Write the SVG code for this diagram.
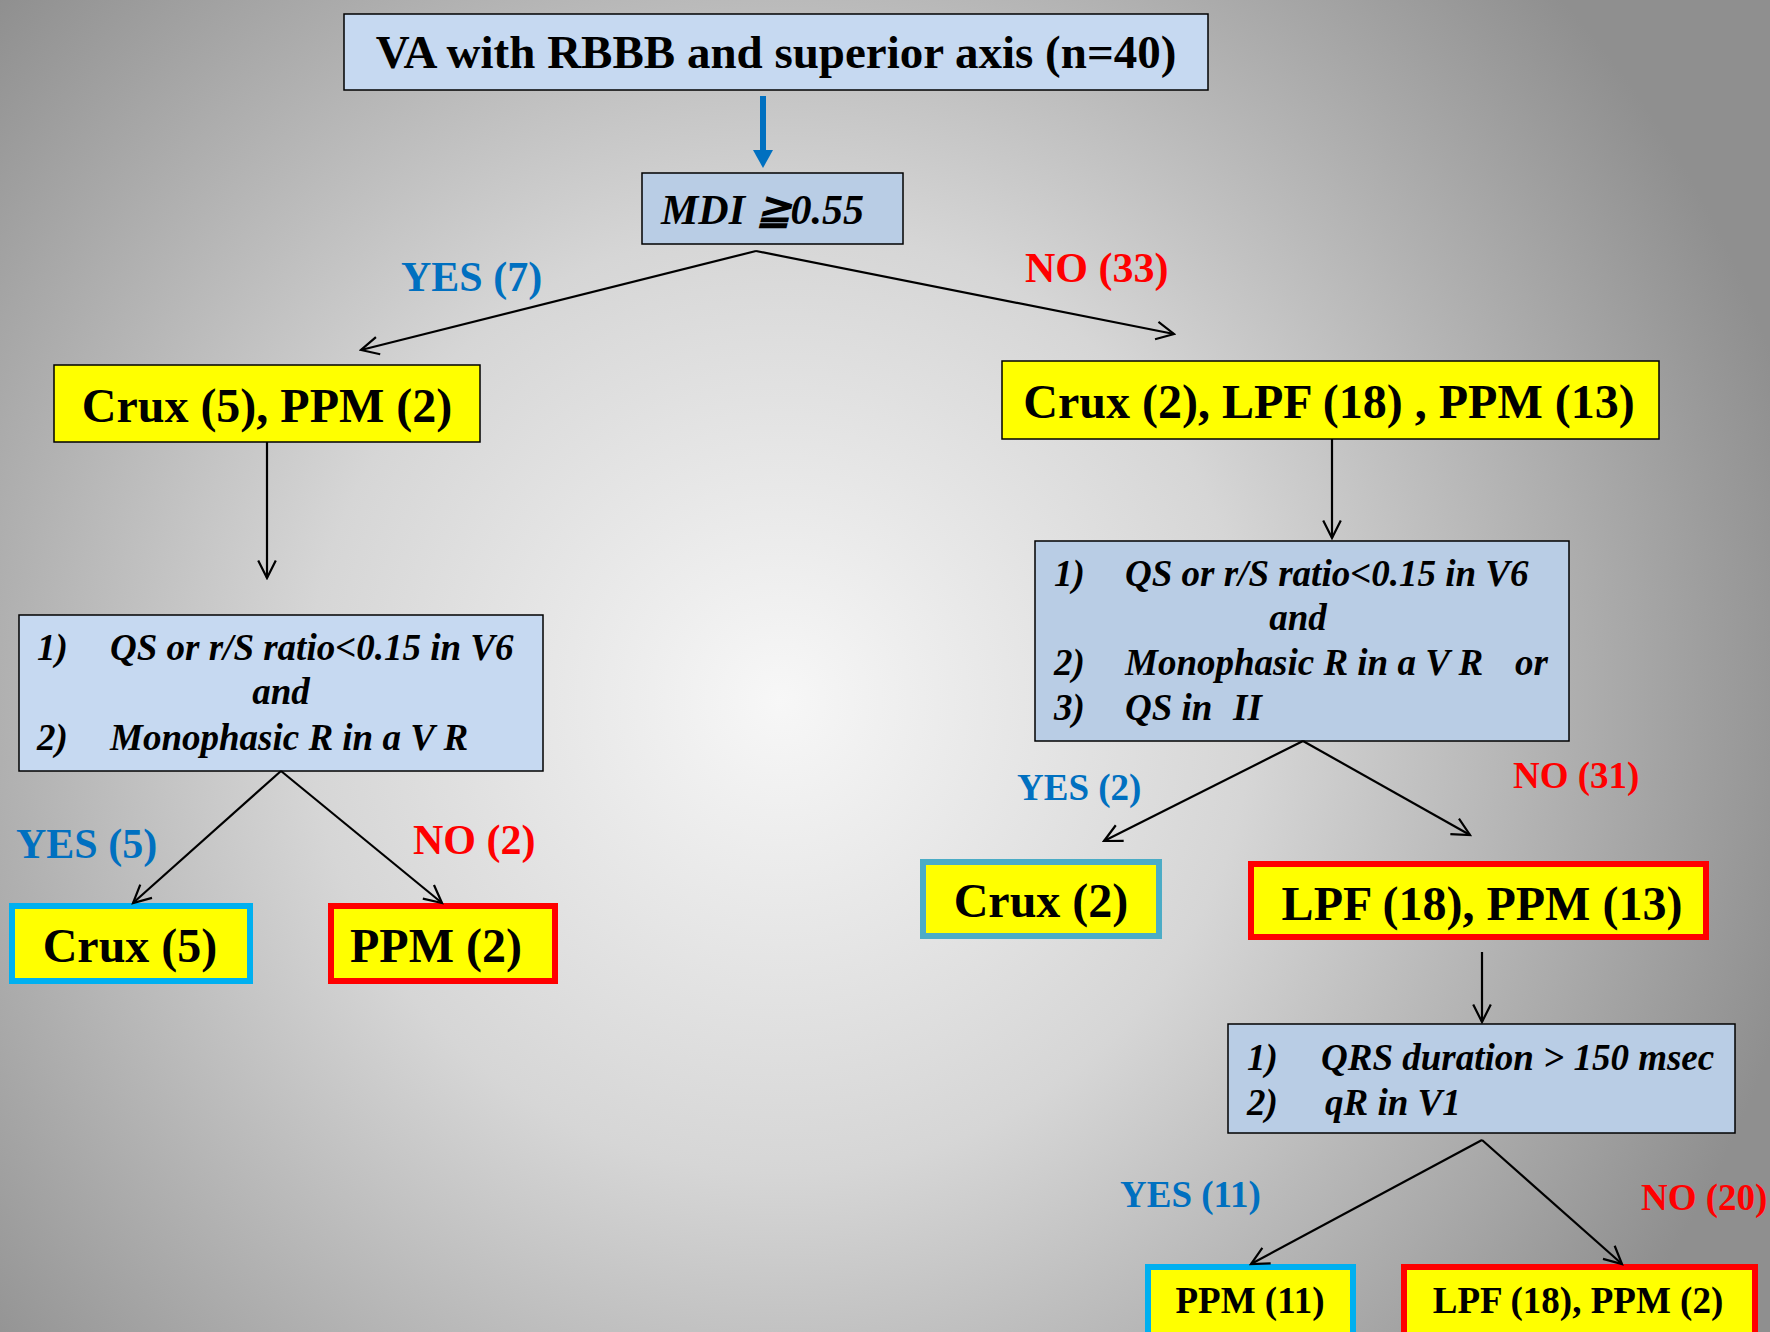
<svg xmlns="http://www.w3.org/2000/svg" width="1770" height="1332" viewBox="0 0 1770 1332">
<defs>
<radialGradient id="bg" gradientUnits="userSpaceOnUse" cx="780" cy="700" r="1050">
<stop offset="0" stop-color="#f7f7f7"/>
<stop offset="0.45" stop-color="#d6d6d6"/>
<stop offset="1" stop-color="#8f8f8f"/>
</radialGradient>
<marker id="ah" viewBox="0 0 20 20" refX="18" refY="10" markerWidth="22" markerHeight="22" markerUnits="userSpaceOnUse" orient="auto">
<path d="M2,2 L18,10 L2,18" fill="none" stroke="#000" stroke-width="2"/>
</marker>
<style>
.blue{fill:#C6D9F1;stroke:#000;stroke-width:1.5}
.blue2{fill:#B9CDE5;stroke:#000;stroke-width:1.5}
.yel{fill:#FFFF00;stroke:#000;stroke-width:1.5}
.yc{fill:#FFFF00;stroke:#00B0F0;stroke-width:6}
.yc2{fill:#FFFF00;stroke:#4BACC6;stroke-width:6}
.yr{fill:#FFFF00;stroke:#FF0000;stroke-width:6}
text{font-family:"Liberation Serif","Times New Roman",serif;font-weight:bold;fill:#000}
.big{font-size:48px}
.it{font-style:italic;font-size:37px}
.mid{font-size:37px}
.yes{fill:#0070C0}
.no{fill:#FF0000}
.conn line{stroke:#000;stroke-width:2.2;marker-end:url(#ah)}
</style>
</defs>
<rect x="0" y="0" width="1770" height="1332" fill="url(#bg)"/>

<g id="n-top">
<rect class="blue" x="344" y="14" width="864" height="76"/>
<text x="776" y="68" font-size="47" text-anchor="middle">VA with RBBB and superior axis (n=40)</text>
</g>

<g id="n-mdi">
<rect class="blue2" x="642" y="173" width="261" height="71"/>
<text x="661" y="224" font-size="42" font-style="italic">MDI ≧0.55</text>
</g>

<g id="n-left1">
<rect class="yel" x="54" y="365" width="426" height="77"/>
<text class="big" x="267" y="422" text-anchor="middle">Crux (5), PPM (2)</text>
</g>

<g id="n-right1">
<rect class="yel" x="1002" y="361" width="657" height="78"/>
<text class="big" x="1329" y="418" text-anchor="middle">Crux (2), LPF (18) , PPM (13)</text>
</g>

<g id="n-critL">
<rect class="blue" x="19" y="615" width="524" height="156"/>
<text class="it" x="37" y="660">1)</text>
<text class="it" x="110" y="660">QS or r/S ratio&lt;0.15 in V6</text>
<text class="it" x="281" y="704" text-anchor="middle">and</text>
<text class="it" x="37" y="750">2)</text>
<text class="it" x="110" y="750">Monophasic R in a V R</text>
</g>

<g id="n-critR">
<rect class="blue2" x="1035" y="541" width="534" height="200"/>
<text class="it" x="1054" y="586">1)</text>
<text class="it" x="1125" y="586">QS or r/S ratio&lt;0.15 in V6</text>
<text class="it" x="1298" y="630" text-anchor="middle">and</text>
<text class="it" x="1054" y="675">2)</text>
<text class="it" x="1125" y="675">Monophasic R in a V R</text>
<text class="it" x="1515" y="675">or</text>
<text class="it" x="1054" y="720">3)</text>
<text class="it" x="1125" y="720">QS in</text>
<text class="it" x="1233" y="720">II</text>
</g>

<g id="n-crux5">
<rect class="yc" x="12" y="906" width="238" height="75"/>
<text class="big" x="130" y="962" text-anchor="middle">Crux (5)</text>
</g>

<g id="n-ppm2">
<rect class="yr" x="331" y="906" width="224" height="75"/>
<text class="big" x="436" y="962" text-anchor="middle">PPM (2)</text>
</g>

<g id="n-crux2">
<rect class="yc2" x="923" y="862" width="236" height="74"/>
<text class="big" x="1041" y="917" text-anchor="middle">Crux (2)</text>
</g>

<g id="n-lpf1813">
<rect class="yr" x="1251" y="864" width="455" height="73"/>
<text class="big" x="1482" y="920" text-anchor="middle">LPF (18), PPM (13)</text>
</g>

<g id="n-qrs">
<rect class="blue2" x="1228" y="1024" width="507" height="109"/>
<text class="it" x="1247" y="1070">1)</text>
<text class="it" x="1321" y="1070">QRS duration &gt; 150 msec</text>
<text class="it" x="1247" y="1115">2)</text>
<text class="it" x="1325" y="1115">qR in V1</text>
</g>

<g id="n-ppm11">
<rect class="yc" x="1148" y="1267" width="205" height="75"/>
<text class="mid" x="1250" y="1313" text-anchor="middle">PPM (11)</text>
</g>

<g id="n-lpf182">
<rect class="yr" x="1404" y="1267" width="351" height="75"/>
<text class="mid" x="1578" y="1313" text-anchor="middle">LPF (18), PPM (2)</text>
</g>

<g id="connectors">
<line x1="763" y1="96" x2="763" y2="152" stroke="#0070C0" stroke-width="6"/>
<polygon points="753,150 773,150 763,168" fill="#0070C0"/>
<g class="conn">
<line x1="756" y1="251" x2="361" y2="350"/>
<line x1="756" y1="251" x2="1174" y2="334"/>
<line x1="267" y1="442" x2="267" y2="578"/>
<line x1="1332" y1="439" x2="1332" y2="538"/>
<line x1="281" y1="771" x2="133" y2="903"/>
<line x1="281" y1="771" x2="442" y2="903"/>
<line x1="1303" y1="741" x2="1104" y2="841"/>
<line x1="1303" y1="741" x2="1470" y2="835"/>
<line x1="1482" y1="952" x2="1482" y2="1022"/>
<line x1="1482" y1="1140" x2="1251" y2="1264"/>
<line x1="1482" y1="1140" x2="1622" y2="1264"/>
</g>
</g>

<g id="labels">
<text class="yes" x="401" y="291" font-size="42">YES (7)</text>
<text class="no" x="1025" y="282" font-size="42">NO (33)</text>
<text class="yes" x="16" y="858" font-size="42">YES (5)</text>
<text class="no" x="413" y="854" font-size="42">NO (2)</text>
<text class="yes" x="1017" y="800" font-size="37">YES (2)</text>
<text class="no" x="1513" y="788" font-size="37">NO (31)</text>
<text class="yes" x="1120" y="1207" font-size="37">YES (11)</text>
<text class="no" x="1641" y="1210" font-size="37">NO (20)</text>
</g>
</svg>
